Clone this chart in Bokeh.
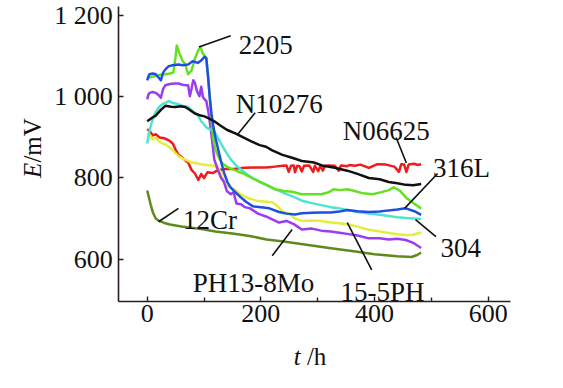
import math
from bokeh.plotting import figure
from bokeh.models import Label, FixedTicker, ColumnDataSource
from bokeh.embed import file_html
from bokeh.resources import INLINE

# ---------------- data ----------------
t_12cr = [0, 3, 6, 10, 15, 21, 30, 40, 60, 95, 120, 150, 180, 210, 240, 280, 320, 360, 400, 440, 465, 475, 482]
e_12cr = [769, 752, 735, 715, 700, 694, 689, 685, 680, 674, 668, 663, 657, 648, 643, 635, 627, 620, 612, 607, 605, 610, 616]

t_n06625 = [0, 5, 10, 15, 22, 30, 38, 45, 50, 55, 62, 68, 72, 78, 84, 90, 95, 100, 106, 115, 123, 135, 152, 170, 190,
            209, 225, 238, 245, 249, 253, 258, 260, 264, 268, 272, 276, 285, 292, 295, 301, 305, 309, 313, 320, 330,
            337, 341, 352, 356, 365, 375, 390, 405, 420, 435, 443, 447, 452, 456, 460, 470, 476, 482]
e_n06625 = [920, 915, 905, 908, 900, 898, 893, 885, 870, 857, 850, 842, 838, 820, 811, 795, 810, 800, 814, 812, 818,
            822, 822, 825, 826, 826, 828, 830, 831, 815, 830, 831, 814, 830, 829, 816, 830, 831, 815, 830, 817, 831,
            818, 830, 831, 830, 818, 831, 829, 832, 830, 833, 825, 834, 833, 828, 815, 834, 833, 815, 833, 835, 832,
            834]

t_15_5ph = [0, 5, 10, 15, 21, 27, 33, 38, 45, 55, 63, 72, 80, 88, 95, 105, 118, 125, 130, 135, 140, 147, 155, 164,
            178, 192, 205, 220, 230, 238, 250, 260, 272, 290, 306, 323, 338, 352, 370, 390, 409, 425, 440, 455, 468, 482]
e_15_5ph = [908, 905, 895, 900, 890, 885, 882, 877, 868, 854, 848, 842, 838, 836, 834, 832, 830, 822, 814, 787, 780,
            776, 770, 760, 750, 744, 742, 740, 730, 717, 712, 700, 694, 695, 694, 690, 688, 686, 680, 672, 668, 664,
            661, 659, 660, 666]

t_ph13 = [0, 2, 4, 10, 15, 20, 24, 28, 32, 40, 48, 55, 62, 68, 72, 75, 78, 81, 84, 87, 89, 92, 95, 98, 101, 104, 108,
          113, 118, 122, 126, 130, 135, 140, 147, 152, 157, 165, 172, 181, 195, 209, 220, 232, 245, 258, 272, 290,
          306, 323, 338, 352, 370, 390, 409, 425, 440, 455, 468, 482]
e_ph13 = [994, 1005, 1010, 1012, 1010, 1005, 998, 1020, 1029, 1032, 1033, 1033, 1030, 1029, 1029, 1002, 1020, 1041,
          1035, 1017, 1010, 1002, 1025, 1000, 994, 990, 960, 908, 846, 830, 814, 800, 791, 768, 760, 765, 737, 735,
          728, 725, 712, 705, 698, 690, 694, 686, 673, 675, 670, 668, 665, 662, 658, 651, 651, 648, 650, 647, 640, 627]

t_304 = [0, 3, 7, 11, 15, 21, 27, 33, 38, 45, 55, 63, 72, 80, 89, 95, 100, 104, 110, 118, 124, 130, 138, 147, 155,
         164, 175, 186, 198, 209, 220, 232, 245, 260, 272, 290, 306, 323, 338, 352, 370, 390, 409, 425, 440, 455,
         468, 482]
e_304 = [885, 910, 932, 950, 963, 975, 982, 986, 990, 985, 982, 978, 975, 965, 955, 940, 932, 925, 920, 915, 900, 885,
         865, 846, 833, 822, 810, 799, 790, 783, 775, 768, 760, 752, 744, 738, 733, 728, 725, 721, 716, 712, 709, 706,
         703, 701, 700, 699]

t_2205 = [0, 8, 16, 24, 32, 40, 46, 50, 52, 56, 62, 67, 72, 78, 84, 90, 94, 98, 104, 108, 112, 116, 120, 126, 133,
          140, 147, 158, 169, 184, 198, 212, 226, 240, 255, 272, 290, 306, 318, 328, 340, 352, 365, 380, 397, 412,
          425, 434, 445, 455, 468, 482]
e_2205 = [1045, 1050, 1052, 1055, 1056, 1058, 1060, 1100, 1127, 1110, 1090, 1080, 1056, 1065, 1095, 1115, 1123, 1107,
          1095, 1040, 960, 900, 870, 850, 835, 828, 823, 817, 811, 800, 791, 782, 772, 768, 766, 760, 760, 760, 764,
          772, 770, 772, 768, 762, 760, 765, 770, 777, 768, 752, 738, 725]

t_316l = [0, 2, 4, 10, 15, 20, 24, 28, 32, 38, 45, 55, 62, 72, 80, 89, 95, 101, 104, 107, 110, 113, 116, 120, 125,
          130, 135, 141, 147, 155, 164, 175, 186, 200, 215, 232, 245, 260, 272, 290, 306, 323, 338, 352, 370, 390,
          409, 425, 440, 455, 470, 482]
e_316l = [1041, 1050, 1056, 1058, 1056, 1048, 1041, 1060, 1068, 1076, 1078, 1080, 1078, 1080, 1088, 1084, 1090, 1099,
          1096, 1050, 1000, 960, 930, 900, 870, 840, 814, 790, 776, 765, 753, 740, 730, 728, 725, 716, 712, 710, 713,
          714, 715, 715, 717, 721, 718, 716, 717, 720, 722, 725, 718, 709]

t_n10276 = [0, 8, 15, 24, 32, 42, 50, 58, 67, 75, 84, 92, 101, 110, 118, 128, 140, 155, 169, 184, 198, 209, 220, 238,
            255, 272, 294, 310, 330, 352, 370, 390, 409, 425, 440, 455, 468, 482]
e_n10276 = [940, 948, 954, 968, 978, 976, 975, 977, 975, 968, 959, 955, 952, 946, 940, 930, 919, 910, 900, 890, 881,
            877, 868, 857, 850, 842, 838, 830, 825, 818, 810, 800, 797, 790, 787, 783, 782, 785]

series_names = ["12Cr", "N06625", "15-5PH", "PH13-8Mo", "304", "2205", "316L", "N10276"]
series_t = [t_12cr, t_n06625, t_15_5ph, t_ph13, t_304, t_2205, t_316l, t_n10276]
series_e = [e_12cr, e_n06625, e_15_5ph, e_ph13, e_304, e_2205, e_316l, e_n10276]
series_colors = ["#5f8a1f", "#ee1c1c", "#e4ee3a", "#9b3cee", "#4fe3d2", "#66e022", "#1f4fe0", "#111111"]

# label anchors (data units) and leader lines
label_names = ["2205", "N10276", "N06625", "316L", "304", "15-5PH", "PH13-8Mo", "12Cr"]
label_t = [161, 156, 344, 503, 516, 340, 80, 63]
label_e = [1127, 982, 917, 825, 626, 519, 542, 697]
leader_t0 = [91, 159, 438, 453, 472, 352, 255, 20]
leader_e0 = [1123, 907, 900, 725, 697, 690, 673, 692]
leader_t1 = [147, 190, 456, 511, 508, 395, 220, 55]
leader_e1 = [1151, 961, 837, 811, 655, 573, 608, 725]

x_ticks = [0, 200, 400, 600]
x_minor = [100, 300, 500]
y_ticks = [600, 800, 1000, 1200]
y_tick_labels = {600: "600", 800: "800", 1000: "1 000", 1200: "1 200"}

# axis extents (the drawn axes) and the whole-canvas view
x_axis_span = (-50, 640)
y_axis_span = (495, 1223)
x_view = (-258.1, 704.3)
y_view = (319.9, 1238)

SERIF = "Liberation Serif"
INK = "#111111"

p = figure(width=547, height=372, x_range=x_view, y_range=y_view,
           output_backend="svg", toolbar_location=None,
           min_border_left=0, min_border_right=0, min_border_top=0, min_border_bottom=0)
p.xgrid.visible = False
p.ygrid.visible = False
p.outline_line_color = None
p.background_fill_color = "white"
p.border_fill_color = "white"

for t, e, c in zip(series_t, series_e, series_colors):
    p.line(t, e, line_color=c, line_width=2.5, line_join="round")

src = ColumnDataSource(dict(x0=leader_t0, y0=leader_e0, x1=leader_t1, y1=leader_e1))
p.segment("x0", "y0", "x1", "y1", source=src, line_color=INK, line_width=1.6)

for name, tx, ey in zip(label_names, label_t, label_e):
    p.add_layout(Label(x=tx, y=ey, text=name, text_font=SERIF, text_font_size="27px",
                       text_color=INK, text_align="left", text_baseline="alphabetic"))

axis_color = "#2b1d1d"
for ax in (p.xaxis[0], p.yaxis[0]):
    ax.axis_line_color = axis_color
    ax.axis_line_width = 1.6
    ax.major_tick_line_color = axis_color
    ax.minor_tick_line_color = axis_color
    ax.major_tick_line_width = 1.4
    ax.minor_tick_line_width = 1.4
    ax.major_tick_in = 5
    ax.major_tick_out = 0
    ax.minor_tick_in = 4
    ax.minor_tick_out = 0
    ax.major_label_text_font = SERIF
    ax.major_label_text_font_size = "26px"
    ax.major_label_text_color = INK

p.xaxis[0].ticker = FixedTicker(ticks=x_ticks, minor_ticks=x_minor)
p.yaxis[0].ticker = FixedTicker(ticks=y_ticks, minor_ticks=[])
p.yaxis[0].major_label_overrides = y_tick_labels
p.yaxis[0].major_label_standoff = 6
p.xaxis[0].major_label_standoff = 3
p.xaxis[0].fixed_location = y_axis_span[0]
p.yaxis[0].fixed_location = x_axis_span[0]
p.xaxis[0].bounds = x_axis_span
p.yaxis[0].bounds = y_axis_span

# axis titles (italic symbol + upright unit)
p.add_layout(Label(x=-202, y=800, text="E", angle=math.pi / 2, text_font=SERIF, text_font_style="italic",
                   text_font_size="25px", text_color=INK, text_align="left", text_baseline="alphabetic"))
p.add_layout(Label(x=-202, y=838, text="/mV", angle=math.pi / 2, text_font=SERIF,
                   text_font_size="25px", text_color=INK, text_align="left", text_baseline="alphabetic"))
p.add_layout(Label(x=258, y=359, text="t", text_font=SERIF, text_font_style="italic",
                   text_font_size="25px", text_color=INK, text_align="left", text_baseline="alphabetic"))
p.add_layout(Label(x=281, y=359, text="/h", text_font=SERIF,
                   text_font_size="25px", text_color=INK, text_align="left", text_baseline="alphabetic"))

open("out.html", "w").write(file_html(p, INLINE))
